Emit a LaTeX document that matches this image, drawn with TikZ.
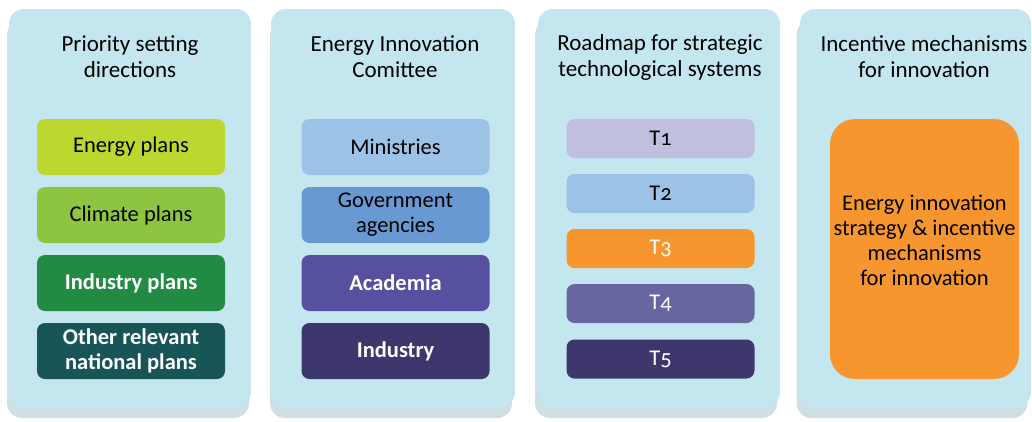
\documentclass[tikz,border=0pt]{standalone}
\usepackage{fontspec}
\setmainfont{Carlito}[Numbers=OldStyle]
\definecolor{panelblue}{HTML}{C4E7EF}
\definecolor{shadeblue}{HTML}{CEDFE6}
\definecolor{lime}{HTML}{BED630}
\definecolor{leaf}{HTML}{8DC540}
\definecolor{forest}{HTML}{218A43}
\definecolor{deepteal}{HTML}{175556}
\definecolor{sky}{HTML}{9CC3E6}
\definecolor{steel}{HTML}{6899D3}
\definecolor{violet}{HTML}{5650A1}
\definecolor{plum}{HTML}{3D376D}
\definecolor{lavender}{HTML}{C0BFDF}
\definecolor{slate}{HTML}{6866A0}
\definecolor{tangerine}{HTML}{F7962F}

\begin{document}
\begin{tikzpicture}[x=1pt,y=-1pt,
    panel/.style={fill=panelblue,rounded corners=15pt,minimum width=242pt,minimum height=398pt,inner sep=0pt},
    shade/.style={panel,fill=shadeblue},
    title/.style={align=center,font=\fontsize{23}{26}\selectfont},
    plan/.style={rounded corners=8pt,minimum width=188pt,minimum height=56pt,inner sep=0pt,align=center,text=black,font=\fontsize{22.5}{25}\selectfont},
    tech/.style={plan,minimum height=39pt},
    bright/.style={text=white,font=\bfseries\fontsize{22.5}{25}\selectfont}]
  \useasboundingbox (0,0) rectangle (1032,421);

  % panels
  \node[shade] (s1) at (128,219) {};
  \node[shade] (s2) at (391,219) {};
  \node[shade] (s3) at (656,219) {};
  \node[shade,minimum width=231pt] (s4) at (912,219) {};
  \node[panel] (p1) at (130,208) {};
  \node[panel,minimum width=244pt] (p2) at (393,208) {};
  \node[panel] (p3) at (659,208) {};
  \node[panel,minimum width=231pt] (p4) at (915.5,208) {};

  \node[title] (t1) at (130,57) {Priority setting\\directions};
  \node[title] (t2) at (395,57) {Energy Innovation\\Comittee};
  \node[title] (t3) at (660,57) {Roadmap for strategic\\technological systems};
  \node[title] (t4) at (924,57) {Incentive mechanisms\\for innovation};

  % priority setting
  \node[plan,fill=lime] (energy) at (131,147) {Energy plans};
  \node[plan,fill=leaf] (climate) at (131,215) {Climate plans};
  \node[plan,fill=forest,bright] (industryplans) at (131,283) {Industry plans};
  \node[plan,fill=deepteal,bright] (other) at (131,351) {Other relevant\\national plans};

  % comittee
  \node[plan,fill=sky] (ministries) at (395.5,147) {Ministries};
  \node[plan,fill=steel] (agencies) at (395.5,215) {Government\\agencies};
  \node[plan,fill=violet,bright] (academia) at (395.5,283) {Academia};
  \node[plan,fill=plum,bright] (industry) at (395.5,351) {Industry};

  % roadmap
  \node[tech,fill=lavender] (T1) at (660.5,138.5) {T1};
  \node[tech,fill=sky] (T2) at (660.5,193.5) {T2};
  \node[tech,fill=tangerine,text=white] (T3) at (660.5,248.5) {T3};
  \node[tech,fill=slate,text=white] (T4) at (660.5,303.5) {T4};
  \node[tech,fill=plum,text=white] (T5) at (660.5,359) {T5};

  % incentives
  \node[plan,fill=tangerine,rounded corners=25pt,minimum height=260pt,minimum width=189pt] (strategy) at (924.5,249) {};
  \node[plan,minimum height=0pt] (strategytext) at (924.5,240)
    {Energy innovation\\strategy \& incentive\\mechanisms\\for innovation};
\end{tikzpicture}
\end{document}
